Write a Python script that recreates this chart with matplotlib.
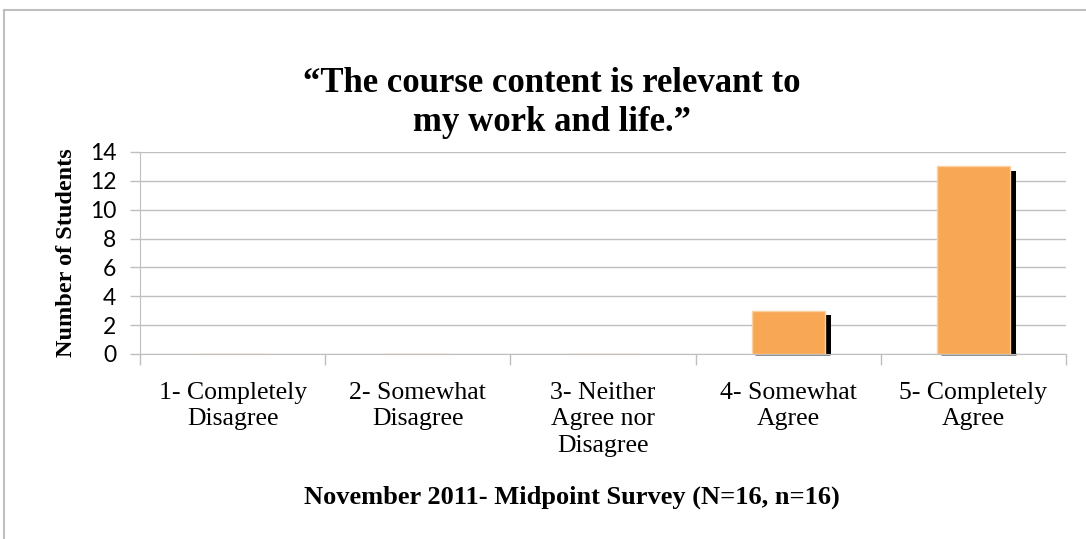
import matplotlib
matplotlib.use("Agg")
import matplotlib.pyplot as plt
from matplotlib.lines import Line2D
import numpy as np

categories = ["1- Completely\nDisagree", "2- Somewhat\nDisagree", "3- Neither\nAgree nor\nDisagree",
              "4- Somewhat\nAgree", "5- Completely\nAgree"]
values = [0, 0, 0, 3, 13]
yticks = [0, 2, 4, 6, 8, 10, 12, 14]
title = "\u201cThe course content is relevant to\nmy work and life.\u201d"
xlabel = "November 2011- Midpoint Survey (N=16, n=16)"
ylabel = "Number of Students"

W, H = 1086, 539
fig = plt.figure(figsize=(W / 100, H / 100), dpi=100)
ax = fig.add_axes([140 / W, (H - 354) / H, 926 / W, 202 / H])

x = np.arange(len(categories))
bw = 0.395
grid_c = "#BFBFBF"
serif = "Liberation Serif"

# shadows
for xi, v in zip(x, values):
    if v > 0:
        ax.bar(xi + bw / 2 + 0.016, v - 0.3, width=0.032, color="black", zorder=2)
        ax.hlines(0, xi - bw / 2 + 0.02, xi + bw / 2 + 0.03, color="#7F7F7F", lw=2,
                  zorder=1, clip_on=False)
ax.bar(x, values, width=bw, color="#F8A755", edgecolor="#FCD1A0", linewidth=1, zorder=3)

ax.set_xlim(-0.5, len(categories) - 0.5)
ax.set_ylim(0, 14)
ax.set_yticks(yticks)
ax.yaxis.grid(True, color=grid_c, linewidth=1)
ax.set_axisbelow(True)
for s in ["top", "right"]:
    ax.spines[s].set_visible(False)
ax.spines["left"].set_color(grid_c)
ax.spines["bottom"].set_color(grid_c)
ax.tick_params(axis="y", colors=grid_c, length=7, width=1, labelcolor="black",
               labelsize=16.5, pad=10)
ax.set_yticklabels([str(t) for t in yticks], fontfamily="Lato")

ax.set_xticks(np.arange(-0.5, len(categories) + 0.5, 1))
ax.set_xticklabels([])
ax.tick_params(axis="x", colors=grid_c, length=8, width=1)
for xi, c in zip(x, categories):
    ax.text(xi, -1.95, c, ha="center", va="top", fontsize=18.5, fontfamily=serif,
            linespacing=1.25)

ax.set_ylabel(ylabel, fontsize=17.5, fontweight="bold", fontfamily=serif, labelpad=9)
fig.text(0.508, 1 - 67 / H, title, ha="center", va="top", fontsize=25,
         fontweight="bold", fontfamily=serif, linespacing=1.22)
fig.text(0.527, (H - 497) / H, xlabel, ha="center", va="center", fontsize=19,
         fontweight="bold", fontfamily=serif)

# outer border
fig.add_artist(Line2D([4 / W, 1.0], [1 - 10 / H, 1 - 10 / H], color="#BFBFBF", lw=1.5,
                      transform=fig.transFigure))
fig.add_artist(Line2D([4 / W, 4 / W], [0, 1 - 10 / H], color="#BFBFBF", lw=1.5,
                      transform=fig.transFigure))

fig.savefig("out.png", dpi=100)
